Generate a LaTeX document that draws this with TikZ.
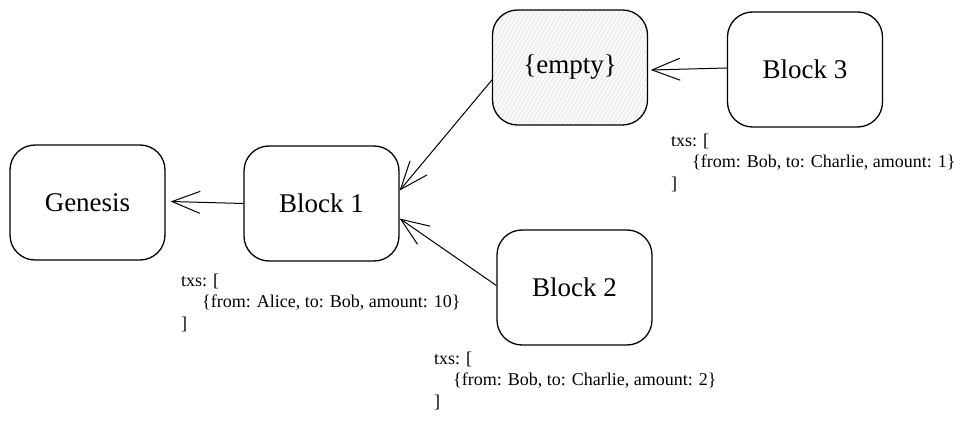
\documentclass[tikz,border=0pt]{standalone}
\usepackage{fontspec}
\setmainfont{Liberation Serif}
\newfontfamily\serifx{Liberation Serif}
\usetikzlibrary{arrows.meta,patterns.meta}
\begin{document}
\begin{tikzpicture}[x=1pt,y=-1pt,
  blk/.style={draw, line width=1.3pt, rounded corners=25pt, minimum width=155pt, minimum height=115pt, inner sep=0pt, font=\serifx\fontsize{27}{30}\selectfont},
  hatched/.style={preaction={fill=gray!4}, pattern={Lines[angle=60,distance=3.5pt,line width=0.35pt]}, pattern color=gray!30},
  link/.style={line width=1pt, -{Straight Barb[length=28pt,width=22pt,line width=1pt]}},
  txs/.style={align=left, inner sep=0pt, anchor=north west, font=\serifx\fontsize{18}{21.5}\selectfont}]
\useasboundingbox (0,0) rectangle (966,427);
\node[blk] (gen) at (87.5,202.5) {Genesis};
\node[blk] (b1) at (321.5,203.5) {Block 1};
\node[blk, hatched] (emp) at (570,67.5) {\{empty\}};
\node[blk] (b3) at (805,69.5) {Block 3};
\node[blk] (b2) at (574.5,287.5) {Block 2};
\draw[link] (b1.west) -- ([xshift=5pt,yshift=1pt]gen.east);
\draw[link] ([yshift=-12pt]emp.west) -- ([yshift=13pt]b1.east);
\draw[link] ([yshift=2pt]b2.west) -- ([yshift=-15pt]b1.east);
\draw[link] ([yshift=1.5pt]b3.west) -- ([xshift=3pt,yshift=-2.5pt]emp.east);
\node[txs] (t1) at (181,273.5) {txs: [\\\hspace*{21pt}\{from: Alice, to: Bob, amount: 10\}\\]};
\node[txs] (t2) at (434,351.5) {txs: [\\\hspace*{19pt}\{from: Bob, to: Charlie, amount: 2\}\\]};
\node[txs] (t3) at (671,133.5) {txs: [\\\hspace*{21pt}\{from: Bob, to: Charlie, amount: 1\}\\]};
\end{tikzpicture}
\end{document}
